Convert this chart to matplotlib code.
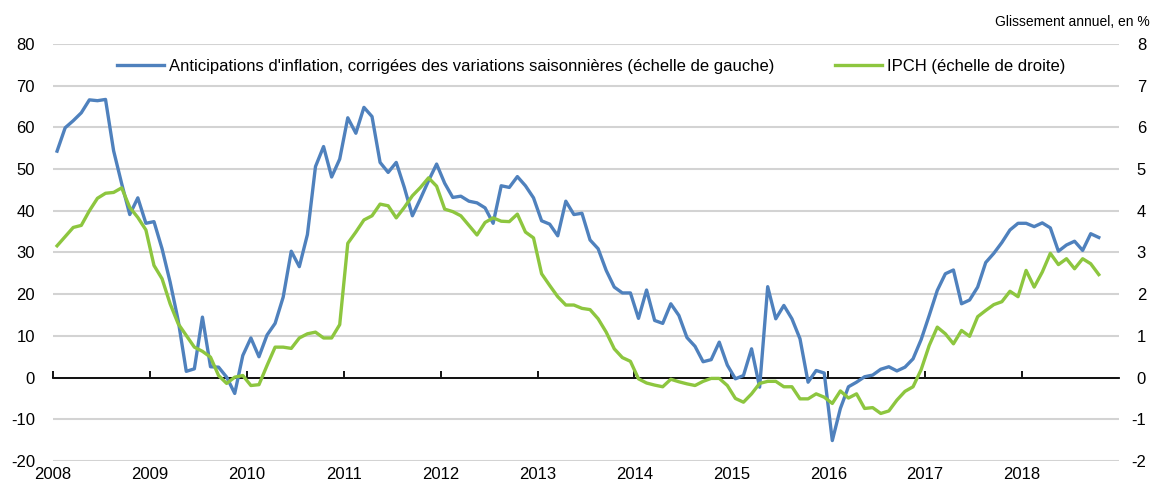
import numpy as np
import matplotlib
matplotlib.use('Agg')
import matplotlib.pyplot as plt
import matplotlib.transforms as mtransforms

plt.rcParams['font.family'] = ['Liberation Sans', 'DejaVu Sans']
plt.rcParams['axes.unicode_minus'] = False

# monthly data, Jan 2008 .. Oct 2018
start_year = 2008
years = list(range(2008, 2019))

anticipations = [
    54.3, 59.9, 61.6, 63.5, 66.6, 66.4, 66.7, 54.4, 46.5, 39.1, 43.1, 37.0,
    37.4, 30.9, 22.9, 13.7, 1.5, 2.1, 14.5, 2.6, 2.5, 0.1, -3.8, 5.3,
    9.5, 5.0, 10.2, 13.0, 19.3, 30.3, 26.6, 34.3, 50.6, 55.4, 48.1, 52.4,
    62.3, 58.6, 64.8, 62.6, 51.6, 49.2, 51.6, 45.6, 38.8, 42.9, 47.2, 51.2,
    46.6, 43.2, 43.5, 42.3, 41.9, 40.7, 37.0, 46.0, 45.6, 48.2, 46.0, 43.1,
    37.6, 36.8, 34.0, 42.3, 39.1, 39.4, 33.0, 30.9, 25.7, 21.7, 20.3, 20.3,
    14.2, 21.0, 13.7, 13.0, 17.7, 14.9, 9.6, 7.5, 3.8, 4.3, 8.5, 3.0,
    -0.3, 0.5, 6.9, -2.3, 21.8, 14.1, 17.3, 14.1, 9.3, -1.1, 1.7, 1.1,
    -15.1, -7.4, -2.2, -1.1, 0.2, 0.6, 2.0, 2.6, 1.6, 2.5, 4.5, 9.1,
    14.9, 20.9, 24.9, 25.8, 17.7, 18.6, 21.7, 27.6, 29.8, 32.4, 35.4, 37.0,
    37.0, 36.2, 37.1, 35.9, 30.3, 31.8, 32.7, 30.5, 34.5, 33.6,
]

ipch = [
    3.16, 3.38, 3.60, 3.65, 4.00, 4.30, 4.42, 4.44, 4.55, 4.08, 3.84, 3.54,
    2.69, 2.37, 1.77, 1.29, 1.01, 0.73, 0.63, 0.49, 0.05, -0.14, 0.01, 0.05,
    -0.19, -0.17, 0.29, 0.73, 0.73, 0.70, 0.95, 1.05, 1.09, 0.95, 0.95, 1.27,
    3.22, 3.49, 3.78, 3.88, 4.16, 4.12, 3.83, 4.08, 4.36, 4.56, 4.79, 4.59,
    4.04, 3.98, 3.88, 3.65, 3.42, 3.72, 3.83, 3.75, 3.74, 3.92, 3.49, 3.35,
    2.49, 2.21, 1.94, 1.74, 1.74, 1.66, 1.63, 1.41, 1.09, 0.69, 0.48, 0.39,
    -0.03, -0.13, -0.18, -0.22, -0.04, -0.10, -0.15, -0.19, -0.09, -0.02, -0.02, -0.19,
    -0.50, -0.59, -0.39, -0.14, -0.09, -0.09, -0.22, -0.22, -0.51, -0.51, -0.39, -0.47,
    -0.62, -0.32, -0.49, -0.39, -0.74, -0.72, -0.86, -0.80, -0.54, -0.33, -0.22, 0.19,
    0.77, 1.21, 1.05, 0.81, 1.13, 0.99, 1.46, 1.61, 1.75, 1.82, 2.07, 1.94,
    2.57, 2.17, 2.53, 2.98, 2.71, 2.85, 2.61, 2.85, 2.73, 2.47,
]

label_left = "Anticipations d'inflation, corrigées des variations saisonnières (échelle de gauche)"
label_right = "IPCH (échelle de droite)"
unit_note = "Glissement annuel, en %"

blue = '#4f81bd'
green = '#8dc63f'

# mid-month positions
t = start_year + (np.arange(len(anticipations)) + 0.5) / 12.0

fig = plt.figure(figsize=(11.58, 4.87), dpi=100, facecolor='w')
ax = fig.add_axes([0.0458, 0.0534, 0.9205, 0.8563])
ax2 = ax.twinx()

ax.set_xlim(2008, 2019)
ax.set_ylim(-20, 80)
ax2.set_ylim(-2, 8)
ax.set_yticks(np.arange(-20, 81, 10))
ax2.set_yticks(np.arange(-2, 9, 1))

ax.grid(True, axis='y', color='#d3d3d3', linewidth=1.5)
ax.set_axisbelow(True)
for a in (ax, ax2):
    for s in ('top', 'left', 'right', 'bottom'):
        a.spines[s].set_visible(False)

ax.spines['bottom'].set_visible(True)
ax.spines['bottom'].set_position(('data', 0))
ax.spines['bottom'].set_linewidth(1.3)
ax.set_xticks(years)
ax.tick_params(axis='x', direction='in', length=5, width=1.3, labelbottom=False)
ax.tick_params(axis='y', length=0, labelsize=12, pad=13)
ax2.tick_params(axis='y', length=0, labelsize=12, pad=19.5)
for lab in ax2.get_yticklabels():
    lab.set_horizontalalignment('right')

trans = mtransforms.blended_transform_factory(ax.transData, ax.transAxes)
for yr in years:
    ax.text(yr, -0.015, str(yr), transform=trans, ha='center', va='top',
            fontsize=12)

l1, = ax.plot(t, anticipations, color=blue, linewidth=2.4, zorder=3)
l2, = ax2.plot(t, ipch, color=green, linewidth=2.4, zorder=3)

ax2.legend([l1, l2], [label_left, label_right], loc='upper center',
           bbox_to_anchor=(0.505, 1.0), ncol=2, frameon=False,
           fontsize=12, handlelength=2.8, columnspacing=3.6,
           handletextpad=0.35)

fig.text(0.993, 0.955, unit_note, ha='right', va='center', fontsize=10)

fig.savefig('out.png', dpi=100)
